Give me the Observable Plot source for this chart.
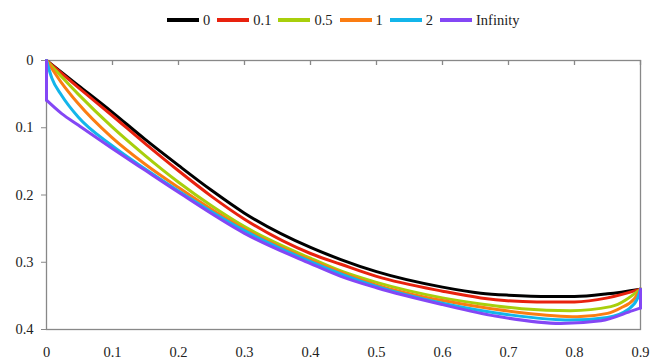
<!DOCTYPE html>
<html>
<head>
<meta charset="utf-8">
<script src="https://cdn.jsdelivr.net/npm/d3@7"></script>
<script src="https://cdn.jsdelivr.net/npm/@observablehq/plot@0.6"></script>
<style>
  html, body { margin: 0; padding: 0; background: #fff; }
  #legend { height: 40px; display: flex; align-items: center; padding-left: 167px; box-sizing: border-box;
            font-family: 'Liberation Serif', Tinos, 'Nimbus Roman', 'Nimbus Roman No9 L', FreeSerif, 'Noto Serif', 'DejaVu Serif', 'Times New Roman', Times, serif;
            font-size: 14.5px; color: #222; }
  .item { display: flex; align-items: center; margin-right: 7px; }
  .sw { width: 32px; height: 4px; margin-right: 4px; }
  #chart svg { display: block; }
</style>
</head>
<body>
<div id="legend"></div>
<div id="chart"></div>
<script>
const xTicks = [0, 0.1, 0.2, 0.3, 0.4, 0.5, 0.6, 0.7, 0.8, 0.9];
const yTicks = [0, 0.1, 0.2, 0.3, 0.4];
const seriesNames = ["0", "0.1", "0.5", "1", "2", "Infinity"];
const seriesColors = ["#000000", "#e8220e", "#a8cf0c", "#fb7d12", "#13b5ea", "#8447f5"];

const x_0 = [0, 0.048, 0.0985, 0.149, 0.2, 0.25, 0.3, 0.4, 0.446, 0.5, 0.6, 0.658, 0.7, 0.764, 0.8, 0.85, 0.9];
const y_0 = [0, 0.037, 0.076, 0.117, 0.156, 0.193, 0.227, 0.278, 0.296, 0.314, 0.337, 0.346, 0.349, 0.351, 0.351, 0.347, 0.340];

const x_01 = [0, 0.048, 0.0985, 0.15, 0.2, 0.25, 0.3, 0.4, 0.446, 0.5, 0.6, 0.658, 0.743, 0.8, 0.85, 0.9];
const y_01 = [0, 0.040, 0.081, 0.124, 0.164, 0.202, 0.236, 0.287, 0.303, 0.321, 0.343, 0.353, 0.359, 0.359, 0.353, 0.340];

const x_05 = [0, 0.048, 0.0985, 0.149, 0.2, 0.25, 0.3, 0.4, 0.446, 0.5, 0.6, 0.658, 0.72, 0.794, 0.855, 0.9];
const y_05 = [0, 0.050, 0.098, 0.141, 0.181, 0.216, 0.247, 0.294, 0.313, 0.330, 0.353, 0.362, 0.369, 0.372, 0.366, 0.340];

const x_1 = [0, 0.022, 0.048, 0.0985, 0.149, 0.2, 0.3, 0.4, 0.5, 0.6, 0.66, 0.72, 0.804, 0.85, 0.87, 0.89, 0.9];
const y_1 = [0, 0.032, 0.064, 0.114, 0.154, 0.189, 0.251, 0.297, 0.334, 0.357, 0.367, 0.375, 0.381, 0.376, 0.368, 0.355, 0.340];

const x_2 = [0, 0.008, 0.023, 0.048, 0.0985, 0.149, 0.2, 0.3, 0.4, 0.5, 0.6, 0.7, 0.794, 0.85, 0.88, 0.895, 0.9];
const y_2 = [0, 0.026, 0.052, 0.084, 0.126, 0.161, 0.194, 0.253, 0.299, 0.336, 0.361, 0.378, 0.386, 0.382, 0.371, 0.355, 0.340];

const x_inf = [0, 0, 0.023, 0.048, 0.0985, 0.149, 0.2, 0.3, 0.4, 0.446, 0.5, 0.6, 0.68, 0.779, 0.84, 0.888, 0.9, 0.9];
const y_inf = [0, 0.059, 0.079, 0.096, 0.130, 0.163, 0.196, 0.257, 0.302, 0.321, 0.338, 0.363, 0.380, 0.391, 0.387, 0.372, 0.368, 0.340];

const seriesX = [x_0, x_01, x_05, x_1, x_2, x_inf];
const seriesY = [y_0, y_01, y_05, y_1, y_2, y_inf];

// Build rows; vertical steps become their own straight segments
const rows = [];
seriesNames.forEach((name, s) => {
  const xs = seriesX[s], ys = seriesY[s];
  let seg = 0;
  let current = [{x: xs[0], y: ys[0]}];
  const flush = () => {
    if (current.length > 1) current.forEach(p => rows.push({series: name, z: name + "-" + seg, x: p.x, y: p.y}));
    seg++;
  };
  for (let i = 1; i < xs.length; i++) {
    const vertical = xs[i] === xs[i - 1];
    if (vertical) {
      flush();
      current = [{x: xs[i - 1], y: ys[i - 1]}, {x: xs[i], y: ys[i]}];
      flush();
      current = [{x: xs[i], y: ys[i]}];
    } else {
      current.push({x: xs[i], y: ys[i]});
    }
  }
  flush();
});

// Legend
const legend = document.getElementById("legend");
seriesNames.forEach((name, i) => {
  const item = document.createElement("div");
  item.className = "item";
  const sw = document.createElement("div");
  sw.className = "sw";
  sw.style.background = seriesColors[i];
  const lab = document.createElement("span");
  lab.textContent = name;
  item.appendChild(sw);
  item.appendChild(lab);
  legend.appendChild(item);
});

const H = 322, MT = 20, MB = 33;
const chart = Plot.plot({
  width: 663,
  height: H,
  marginTop: MT,
  marginBottom: MB,
  marginLeft: 46,
  marginRight: 23,
  x: {domain: [0, 0.9]},
  y: {domain: [0, 0.4], reverse: true},
  color: {domain: seriesNames, range: seriesColors},
  style: {fontFamily: "'Liberation Serif', Tinos, 'Nimbus Roman', 'Nimbus Roman No9 L', FreeSerif, 'Noto Serif', 'DejaVu Serif', 'Times New Roman', Times, serif", fontSize: "14.5px", color: "#222", background: "#fff"},
  marks: [
    Plot.frame({stroke: "#888", strokeWidth: 1.3}),
    Plot.tickX(xTicks, {x: d => d, stroke: "#888", strokeWidth: 1.3, insetBottom: H - MT - MB - 5}),
    Plot.axisY({ticks: yTicks, tickSize: 5, tickPadding: 8, tickFormat: d => String(d), stroke: "#888", fill: "#222", label: null}),
    Plot.axisX({ticks: xTicks, tickSize: 0, tickPadding: 17, tickFormat: d => String(d), fill: "#222", label: null}),
    Plot.line(rows, {x: "x", y: "y", z: "z", stroke: "series", strokeWidth: 3, curve: "monotone-x"})
  ]
});
document.getElementById("chart").appendChild(chart);
</script>
</body>
</html>
